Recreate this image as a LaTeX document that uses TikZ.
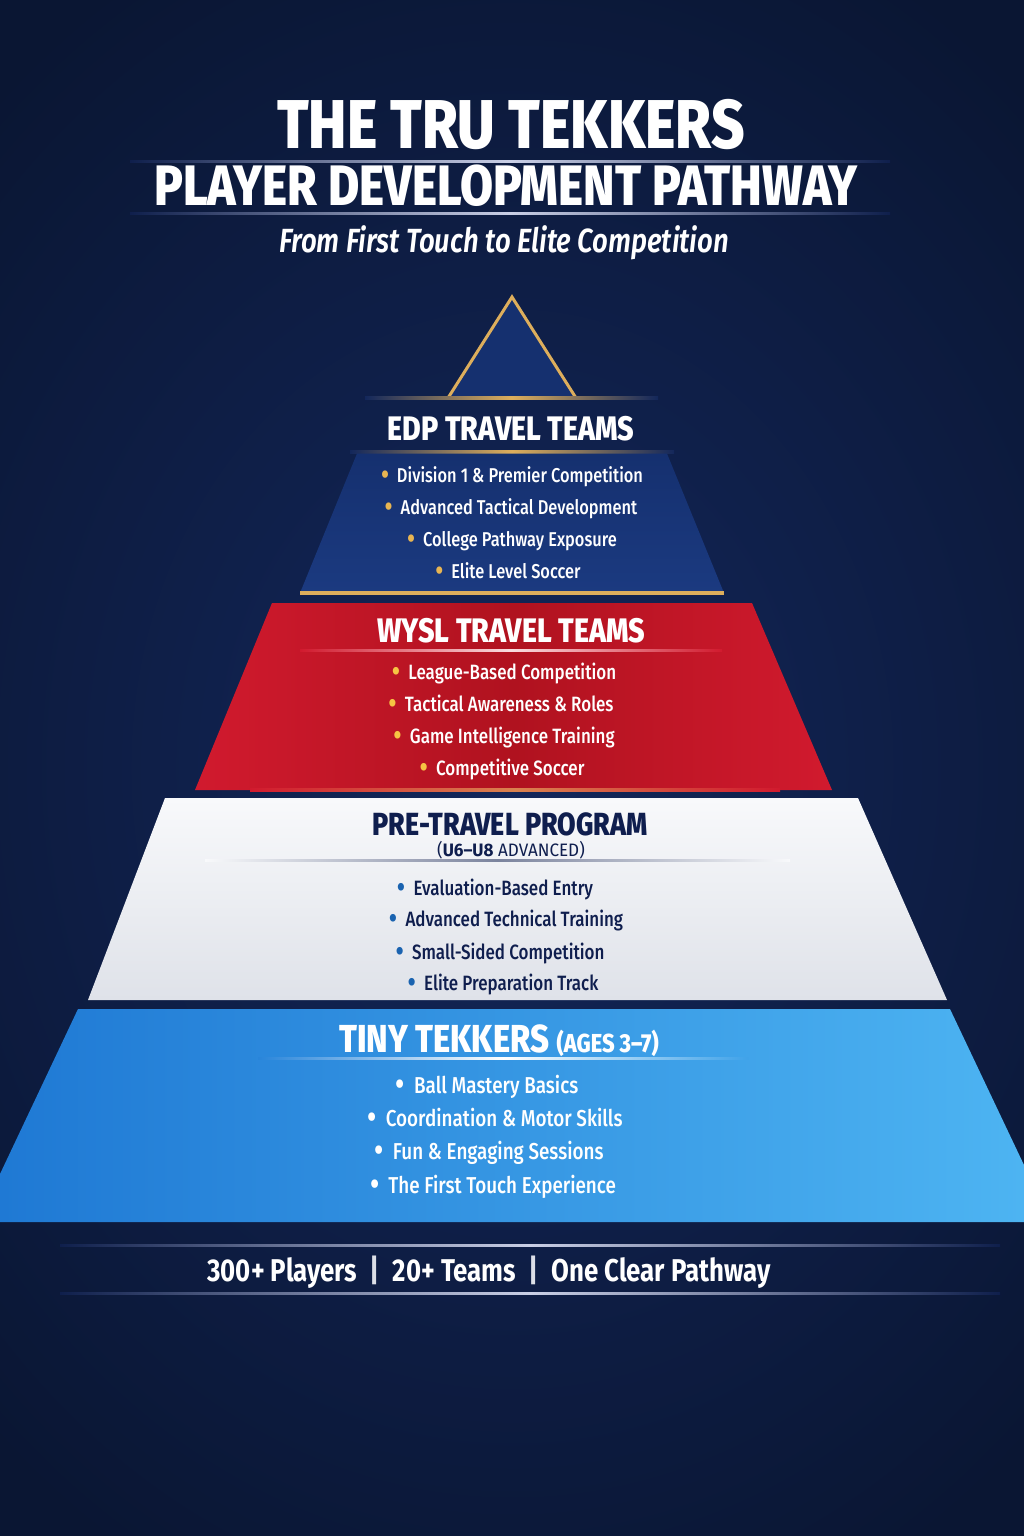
\documentclass[tikz,border=0pt]{standalone}
\usepackage{fontspec}
\setmainfont{Fira Sans}[FakeStretch=0.82, UprightFont=* Medium, BoldFont=* Bold, ItalicFont=* SemiBold Italic, BoldItalicFont=* Bold Italic]
\newfontfamily\heavyfont{Fira Sans}[FakeStretch=0.84, UprightFont=* ExtraBold, BoldFont=* ExtraBold]
\newfontfamily\regfont{Fira Sans}[FakeStretch=0.86]
\newfontfamily\widefont{Fira Sans}[FakeStretch=0.95, BoldFont=* Bold]
\usepackage{xcolor}
\usepackage{graphicx}
\usetikzlibrary{positioning}

\definecolor{bgdark}{HTML}{0A1633}
\definecolor{bglight}{HTML}{13275B}
\definecolor{bgmid}{HTML}{0F1F4C}
\definecolor{edpblue}{HTML}{15306F}
\definecolor{edpdeep}{HTML}{1B3A80}
\definecolor{gold}{HTML}{DDAE5C}
\definecolor{goldbul}{HTML}{E8B552}
\definecolor{yellowbul}{HTML}{F6C443}
\definecolor{wyslred}{HTML}{D11A2E}
\definecolor{wysldark}{HTML}{B0121F}
\definecolor{pretop}{HTML}{F8F9FB}
\definecolor{prebot}{HTML}{DFE2E9}
\definecolor{navytext}{HTML}{0F1E4E}
\definecolor{bluebul}{HTML}{1A63B0}
\definecolor{tinyleft}{HTML}{1F79D4}
\definecolor{tinyright}{HTML}{4DB4F2}
\definecolor{rule}{HTML}{C9CFE6}

\tikzset{
  bigtitle/.style={text=white, font=\heavyfont\fontsize{69}{72}\selectfont, anchor=base, inner sep=0pt},
  subtitle/.style={text=white, font=\heavyfont\fontsize{57}{60}\selectfont, anchor=base, inner sep=0pt},
  tagline/.style={text=white, font=\itshape\fontsize{33.5}{36}\selectfont, anchor=base, inner sep=0pt},
  tierhead/.style={font=\heavyfont\fontsize{34}{38}\selectfont, anchor=base, inner sep=0pt},
  item/.style={font=\fontsize{20}{24}\selectfont, anchor=base, inner sep=0pt},
  miditem/.style={font=\fontsize{20.7}{24}\selectfont, anchor=base, inner sep=0pt},
  bigitem/.style={font=\fontsize{23}{26}\selectfont, anchor=base, inner sep=0pt},
  glow/.style 2 args={left color=#1, right color=#1, middle color=#2},
}

\newcommand{\bulmark}[1]{{\color{#1}\raisebox{-0.1em}{\scalebox{1.45}{\textbullet}}}\hspace{0.4em}}
\newcommand{\sepbar}{\hspace{0.4em}{\regfont\color{white!85!bglight}|}\hspace{0.4em}}

\begin{document}
\begin{tikzpicture}[x=1pt, y=-1pt]

% canvas
\useasboundingbox (0,0) rectangle (1024,1536);
\shade[inner color=bglight, outer color=bgdark] (-250,-150) rectangle (1274,1686);

% heading
\node[bigtitle] (maintitle) at (511,148) {THE TRU TEKKERS};
\shade[glow={bgmid}{rule}] (130,160) rectangle (890,162.5);
\node[subtitle] (pathtitle) at (506,205) {PLAYER DEVELOPMENT PATHWAY};
\shade[glow={bgmid}{rule}] (130,212) rectangle (890,214.5);
\node[tagline] (tagline) at (504,252) {From First Touch to Elite Competition};

% top of the pyramid
\fill[edpblue] (512,297) -- (576,398) -- (448,398) -- cycle;
\draw[gold, line width=3pt] (448,398) -- (512,297) -- (576,398);
\shade[glow={bglight}{gold}] (365,396.5) rectangle (658,399.5);
\node[tierhead, text=white] (edphead) at (511,440) {EDP TRAVEL TEAMS};
\shade[glow={bglight}{gold}] (350,450.5) rectangle (674,453.5);

% EDP tier
\shade[top color=edpblue, bottom color=edpdeep] (357,453.5) -- (667,453.5) -- (724,593) -- (300,593) -- cycle;
\fill[gold] (300,591) rectangle (724,595);
\node[item, text=white] (edpa) at (512,482) {\bulmark{goldbul}Division 1 \& Premier Competition};
\node[item, text=white] (edpb) at (511,514) {\bulmark{goldbul}Advanced Tactical Development};
\node[item, text=white] (edpc) at (512,546) {\bulmark{goldbul}College Pathway Exposure};
\node[item, text=white] (edpd) at (508,578) {\bulmark{goldbul}Elite Level Soccer};

% WYSL tier
\shade[left color=wyslred, right color=wyslred, middle color=wysldark] (272,603) -- (752,603) -- (832,790) -- (195,790) -- cycle;
\node[tierhead, text=white] (wyslhead) at (511,642) {WYSL TRAVEL TEAMS};
\shade[glow={wyslred}{white!85!wyslred}] (300,649) rectangle (722,651);
\node[miditem, text=white] (wysla) at (504,679) {\bulmark{yellowbul}League-Based Competition};
\node[miditem, text=white] (wyslb) at (501,711) {\bulmark{yellowbul}Tactical Awareness \& Roles};
\node[miditem, text=white] (wyslc) at (504,743) {\bulmark{yellowbul}Game Intelligence Training};
\node[miditem, text=white] (wysld) at (502,775) {\bulmark{yellowbul}Competitive Soccer};
\shade[glow={wyslred}{gold!70!wyslred}] (250,788.5) rectangle (780,791);

% pre-travel tier
\shade[top color=pretop, bottom color=prebot] (165,798) -- (858,798) -- (947,1000) -- (88,1000) -- cycle;
\node[tierhead, text=navytext, font=\heavyfont\fontsize{32}{36}\selectfont] (prehead) at (510,835) {PRE-TRAVEL PROGRAM};
\node[item, text=navytext, font=\widefont\fontsize{18}{20}\selectfont] (presub) at (511,856) {(\textbf{U6–U8} ADVANCED)};
\shade[glow={pretop}{navytext!55!white}] (205,859) rectangle (790,861);
\node[miditem, text=navytext] (prea) at (495,895) {\bulmark{bluebul}Evaluation-Based Entry};
\node[miditem, text=navytext] (preb) at (506,926) {\bulmark{bluebul}Advanced Technical Training};
\node[miditem, text=navytext] (prec) at (500,959) {\bulmark{bluebul}Small-Sided Competition};
\node[miditem, text=navytext] (pred) at (503,990) {\bulmark{bluebul}Elite Preparation Track};

% tiny tekkers tier
\shade[left color=tinyleft, right color=tinyright] (78,1009) -- (950,1009) -- (1024,1165) -- (1024,1222) -- (0,1222) -- (0,1174) -- cycle;
\node[tierhead, text=white, font=\heavyfont\fontsize{39}{42}\selectfont] (tinyhead) at (499,1052) {TINY TEKKERS {\fontsize{26}{28}\selectfont(AGES 3–7)}};
\shade[left color=tinyleft!80!tinyright, right color=tinyright!70!tinyleft, middle color=white] (258,1057) rectangle (748,1059.5);
\node[bigitem, text=white] (tinya) at (487,1093) {\bulmark{white}Ball Mastery Basics};
\node[bigitem, text=white] (tinyb) at (495,1126) {\bulmark{white}Coordination \& Motor Skills};
\node[bigitem, text=white] (tinyc) at (489,1159) {\bulmark{white}Fun \& Engaging Sessions};
\node[bigitem, text=white] (tinyd) at (493,1193) {\bulmark{white}The First Touch Experience};

% footer
\shade[glow={bgmid}{rule}] (60,1244) rectangle (1000,1246.5);
\node[tierhead, text=white, font=\bfseries\fontsize{31.5}{34}\selectfont] (footer) at (489,1281) {300+ Players\sepbar 20+ Teams\sepbar One Clear Pathway};
\shade[glow={bgmid}{rule}] (60,1292) rectangle (1000,1294.5);

\end{tikzpicture}
\end{document}
